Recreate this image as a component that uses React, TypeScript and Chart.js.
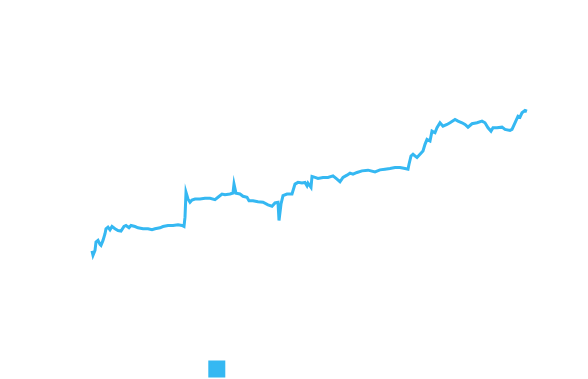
import React, { useEffect, useRef } from "react";
import { Chart, registerables } from "chart.js";

Chart.register(...registerables);

// Trading day index (x) and closing price (y)
const days: number[] = [
  0, 1, 3, 4, 6, 8, 9, 11, 13, 14, 16, 18, 20, 23, 26, 29, 32, 34, 37, 39,
  43, 46, 51, 56, 60, 63, 68, 71, 76, 81, 86, 90, 92, 93, 94, 96, 98, 100, 103, 108, 113,
  118, 123, 126, 130, 133, 138, 141, 142, 144, 148, 151, 155, 157, 161, 166, 171, 176, 180, 183, 186,
  187, 189, 191, 195, 200, 203, 206, 210, 213, 215, 216, 219, 220, 223, 226, 231, 236, 241, 245, 248,
  251, 255, 258, 261, 265, 270, 276, 283, 288, 293, 298, 303, 308, 313, 316, 317, 319, 321, 325, 328,
  331, 333, 335, 338, 340, 343, 345, 348, 351, 355, 358, 363, 366, 370, 373, 376, 380, 385, 390, 393,
  396, 399, 401, 405, 410, 413, 418, 420, 423, 426, 428, 430, 433, 435,
];

const prices: number[] = [
  9.77, 9.33, 9.83, 10.67, 10.83, 10.43, 10.33, 10.83, 11.5, 12.0, 12.17, 11.9, 12.23, 12.0, 11.83, 11.77, 12.23, 12.33, 12.1, 12.33,
  12.23, 12.1, 12.0, 12.0, 11.9, 12.0, 12.1, 12.23, 12.33, 12.33, 12.4, 12.33, 12.23, 13.17, 15.67, 15.0, 14.67, 14.9, 15.0, 15.0, 15.07,
  15.07, 14.93, 15.17, 15.5, 15.43, 15.5, 15.6, 16.5, 15.57, 15.5, 15.27, 15.17, 14.83, 14.83, 14.73, 14.67, 14.4, 14.27, 14.6, 14.67,
  12.83, 14.5, 15.33, 15.5, 15.5, 16.5, 16.67, 16.6, 16.67, 16.33, 16.6, 16.17, 17.27, 17.17, 17.07, 17.17, 17.17, 17.33, 17.0, 16.73,
  17.17, 17.4, 17.6, 17.5, 17.67, 17.83, 17.9, 17.73, 17.93, 18.0, 18.07, 18.17, 18.17, 18.07, 18.0, 18.5, 19.33, 19.5, 19.17, 19.5,
  19.83, 20.5, 21.0, 20.83, 21.83, 21.67, 22.17, 22.67, 22.33, 22.5, 22.67, 23.0, 22.83, 22.67, 22.5, 22.23, 22.57, 22.67, 22.83, 22.67,
  22.17, 21.83, 22.17, 22.17, 22.23, 22.0, 21.9, 22.0, 22.67, 23.33, 23.23, 23.67, 23.9, 23.83,
];

const seriesLabel = "Share price daily closing (in USD)";
const lineColor = "#35b8f2";

export default function App() {
  const canvasRef = useRef<HTMLCanvasElement | null>(null);

  useEffect(() => {
    if (!canvasRef.current) return;
    const chart = new Chart(canvasRef.current, {
      type: "line",
      data: {
        datasets: [
          {
            label: seriesLabel,
            data: days.map((d, i) => ({ x: d, y: prices[i] })),
            borderColor: lineColor,
            backgroundColor: lineColor,
            borderWidth: 3,
            pointRadius: 0,
            tension: 0,
            fill: false,
          },
        ],
      },
      options: {
        animation: false,
        responsive: true,
        maintainAspectRatio: false,
        layout: { padding: { left: 82, right: 51, top: 32, bottom: 0 } },
        scales: {
          x: { type: "linear", min: -2, max: 437, display: false },
          y: { min: -0.4, max: 31, display: false },
        },
        plugins: {
          legend: {
            position: "bottom",
            labels: { color: "#ffffff", boxWidth: 14, boxHeight: 14 },
          },
          tooltip: { enabled: false },
        },
      },
    });
    return () => chart.destroy();
  }, []);

  return (
    <div style={{ position: "relative", height: "378px" }}>
      <canvas ref={canvasRef} />
    </div>
  );
}
